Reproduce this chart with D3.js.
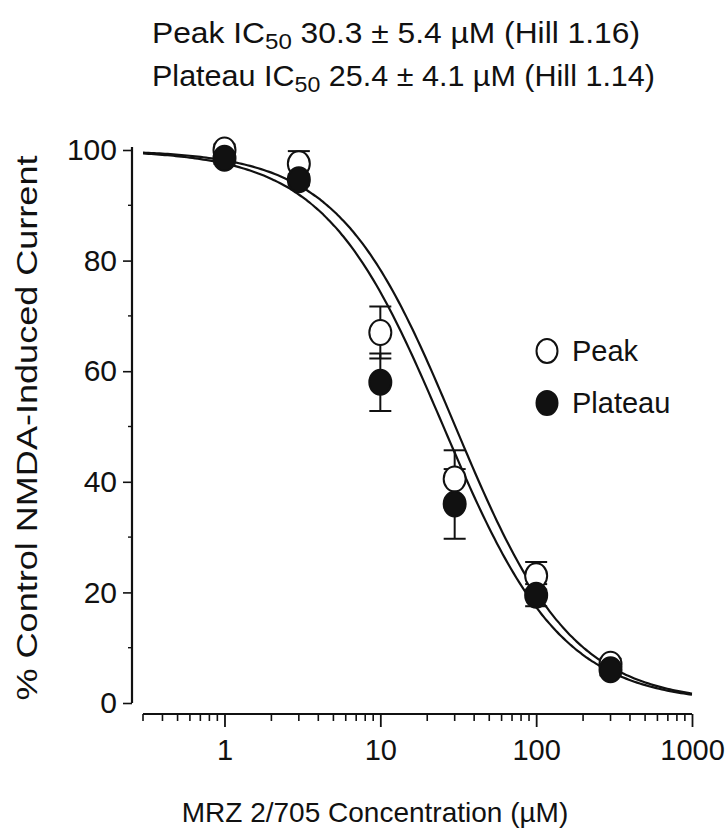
<!DOCTYPE html>
<html><head><meta charset="utf-8">
<script src="https://cdn.jsdelivr.net/npm/d3@7"></script>
<style>
html,body{margin:0;padding:0;background:#fff;}
svg{display:block;}
text{font-family:"Liberation Sans",Arial,Helvetica,sans-serif;fill:#111;}
</style></head>
<body><svg id="chart" width="725" height="830"></svg>
<script>
// ---- data ----
const concentrations = [1, 3, 10, 30, 100, 300];
const peakMean    = [100, 97.5, 67, 40.5, 23, 7];
const peakErr     = [1, 2.3, 4.7, 5.2, 2.5, 1];
const plateauMean = [98.5, 94.6, 58, 36, 19.5, 6];
const plateauErr  = [1, 1, 5.2, 6.3, 2, 1];
const seriesNames = ["Peak", "Plateau"];
const fitIC50 = [30.3, 25.4];
const fitHill = [1.16, 1.14];
const fitIC50Err = [5.4, 4.1];
const xTickValues = [1, 10, 100, 1000];
const yTickValues = [0, 20, 40, 60, 80, 100];
const yMinorValues = [10, 30, 50, 70, 90];

const svg = d3.select("#chart");
const x = d3.scaleLog().domain([0.3, 1000]).range([143, 692]);
const y = d3.scaleLinear().domain([0, 100]).range([703, 150]);
const ink = "#111";

// ---- title ----
const titleWidths = [488, 503];
[0, 1].forEach(i => {
  const t = svg.append("text").attr("x", 152).attr("y", 43 + i * 43).style("font-size", "29px")
    .attr("textLength", titleWidths[i]).attr("lengthAdjust", "spacingAndGlyphs");
  t.append("tspan").text(seriesNames[i] + " IC");
  t.append("tspan").attr("dy", 6).style("font-size", "22px").text("50");
  t.append("tspan").attr("dy", -6).text(" " + fitIC50[i].toFixed(1) + " \u00B1 " + fitIC50Err[i].toFixed(1) + " \u00B5M (Hill " + fitHill[i].toFixed(2) + ")");
});

// ---- y axis ----
const yAxis = d3.axisLeft(y).tickValues(yTickValues).tickSize(9).tickPadding(6).tickFormat(d3.format("d"));
const gy = svg.append("g").attr("transform", "translate(132,0)").call(yAxis);
gy.select(".domain").attr("d", "M0," + (y(100) - 3) + "V" + y(0)).attr("stroke", ink).attr("stroke-width", 2.2);
gy.selectAll(".tick line").attr("stroke", ink).attr("stroke-width", 1.6);
gy.selectAll(".tick text").style("font-size", "30px").attr("fill", ink);
gy.append("g").selectAll("line").data(yMinorValues).join("line")
  .attr("x1", -4).attr("x2", 0).attr("y1", d => y(d)).attr("y2", d => y(d))
  .attr("stroke", ink).attr("stroke-width", 1.4);

// ---- x axis ----
const minor = [];
[0.1, 1, 10, 100].forEach(dec => { for (let k = 2; k <= 9; k++) { const v = dec * k; if (v >= 0.3 && v < 1000 && !xTickValues.includes(v)) minor.push(v); } });
const xAxis = d3.axisBottom(x).tickValues(xTickValues).tickSize(13).tickPadding(12).tickFormat(d3.format("d"));
const gx = svg.append("g").attr("transform", "translate(0,714)").call(xAxis);
gx.select(".domain").attr("d", "M" + x(0.3) + ",0H" + x(1000)).attr("stroke", ink).attr("stroke-width", 2);
gx.selectAll(".tick line").attr("stroke", ink).attr("stroke-width", 1.8);
gx.selectAll(".tick text").style("font-size", "29px").attr("fill", ink);
gx.append("g").selectAll("line").data(minor).join("line")
  .attr("x1", d => x(d)).attr("x2", d => x(d)).attr("y1", 0).attr("y2", 7)
  .attr("stroke", ink).attr("stroke-width", 1.6);

// ---- axis labels ----
svg.append("text").attr("x", 375).attr("y", 822).attr("text-anchor", "middle")
  .style("font-size", "28px").text("MRZ 2/705 Concentration (\u00B5M)");
svg.append("text").attr("transform", "translate(37,428) rotate(-90)").attr("text-anchor", "middle")
  .style("font-size", "30px").attr("textLength", 545).attr("lengthAdjust", "spacingAndGlyphs")
  .text("% Control NMDA-Induced Current");

// ---- fitted Hill curves (from the stated IC50 / Hill values) ----
const samples = d3.range(0, 201).map(i => 0.3 * Math.pow(1000 / 0.3, i / 200));
const line = d3.line().x(d => x(d[0])).y(d => y(d[1])).curve(d3.curveBasis);
[0, 1].forEach(i => {
  const pts = samples.map(c => [c, 100 / (1 + Math.pow(c / fitIC50[i], fitHill[i]))]);
  svg.append("path").datum(pts).attr("d", line).attr("fill", "none").attr("stroke", ink).attr("stroke-width", 2.2);
});

// ---- error bars and markers ----
const series = [
  {mean: peakMean, err: peakErr, fill: "#fff"},
  {mean: plateauMean, err: plateauErr, fill: ink}
];
series.forEach(s => {
  const g = svg.append("g");
  concentrations.forEach((c, j) => {
    const cx = x(c), top = y(s.mean[j] + s.err[j]), bot = y(s.mean[j] - s.err[j]);
    g.append("line").attr("x1", cx).attr("x2", cx).attr("y1", top).attr("y2", bot).attr("stroke", ink).attr("stroke-width", 2);
    [top, bot].forEach(yy => g.append("line").attr("x1", cx - 11).attr("x2", cx + 11).attr("y1", yy).attr("y2", yy).attr("stroke", ink).attr("stroke-width", 2));
  });
});
series.forEach(s => {
  svg.append("g").selectAll("ellipse").data(concentrations).join("ellipse")
    .attr("cx", d => x(d)).attr("cy", (d, j) => y(s.mean[j]))
    .attr("rx", 11).attr("ry", 12.5)
    .attr("fill", s.fill).attr("stroke", ink).attr("stroke-width", 2);
});

// ---- legend ----
const legend = svg.append("g");
seriesNames.forEach((name, i) => {
  legend.append("ellipse").attr("cx", 547).attr("cy", 351 + i * 52).attr("rx", 10.5).attr("ry", 12)
    .attr("fill", series[i].fill).attr("stroke", ink).attr("stroke-width", 2);
  legend.append("text").attr("x", 572).attr("y", 361 + i * 52).style("font-size", "29px").text(name);
});
</script></body></html>
